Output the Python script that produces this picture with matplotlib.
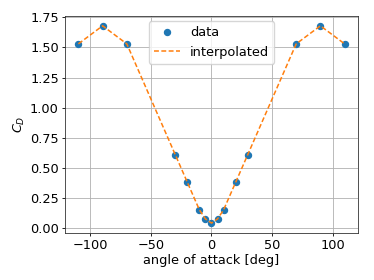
import matplotlib
matplotlib.use("Agg")
import matplotlib.pyplot as plt

# drag coefficient vs angle of attack
alpha = [-110, -90, -70, -30, -20, -10, -5, 0, 5, 10, 20, 30, 70, 90, 110]
cd = [1.53, 1.68, 1.53, 0.61, 0.38, 0.15, 0.075, 0.04, 0.075, 0.15, 0.38, 0.61, 1.53, 1.68, 1.53]

plt.rcParams["font.size"] = 9.3

fig = plt.figure(figsize=(3.74, 2.8), dpi=100)
ax = fig.add_axes([0.174, 0.168, 0.783, 0.775])
ax.plot(alpha, cd, "o", color="#1f77b4", markersize=4.3, label="data")
ax.plot(alpha, cd, "--", color="#ff7f0e", linewidth=1.1, dashes=(3.2, 1.6), label="interpolated")
ax.set_xlabel("angle of attack [deg]", labelpad=1)
ax.set_ylabel("$C_D$", labelpad=2)
ax.set_yticks([0, 0.25, 0.5, 0.75, 1.0, 1.25, 1.5, 1.75])
ax.grid(True, color="#b0b0b0", linewidth=0.6)
for s in ax.spines.values():
    s.set_linewidth(0.6)
    s.set_color("#333333")
ax.tick_params(width=0.6, length=2.5, pad=2)
ax.legend(loc="upper center", borderaxespad=0.4, handlelength=2.0)
fig.savefig("out.png", dpi=100)
